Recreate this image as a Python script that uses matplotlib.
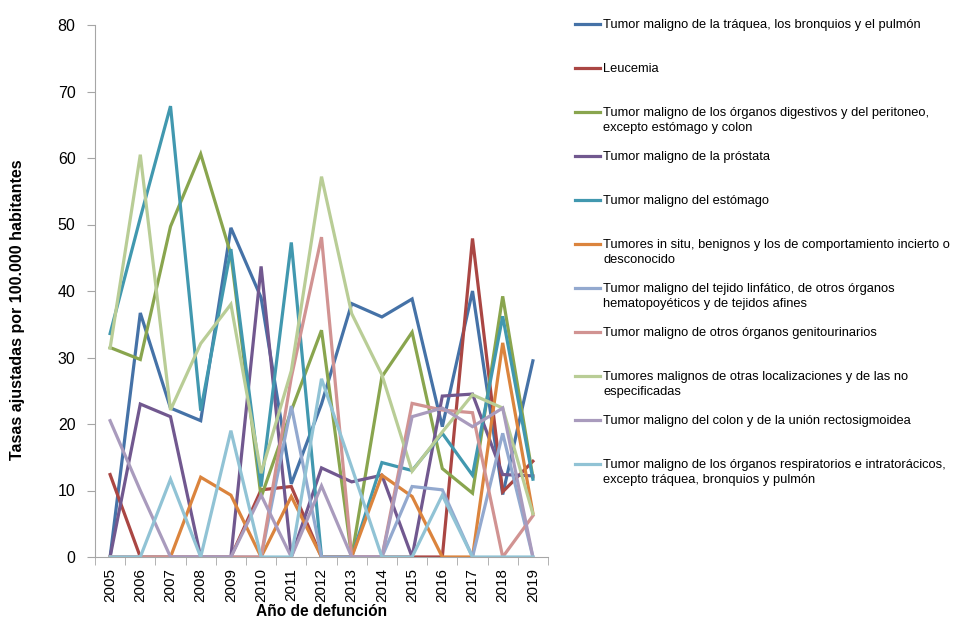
import matplotlib.pyplot as plt
from matplotlib.lines import Line2D

plt.rcParams['font.family'] = ['Liberation Sans', 'DejaVu Sans']

years = [str(y) for y in range(2005, 2020)]

traquea = [0, 36.7, 22.4, 20.5, 49.5, 39.0, 11.0, 23.0, 38.1, 36.1, 38.8, 19.6, 40.0, 9.4, 29.5]
leucemia = [12.4, 0, 0, 0, 0, 10.1, 10.6, 0, 0, 0, 0, 0, 47.9, 9.8, 14.4]
digestivos = [31.5, 29.7, 49.7, 60.6, 45.5, 9.0, 22.0, 34.1, 0, 27.1, 33.8, 13.3, 9.6, 39.2, 12.0]
prostata = [0, 23.0, 21.1, 0, 0, 43.7, 0, 13.4, 11.3, 12.3, 0, 24.2, 24.5, 12.4, 12.2]
estomago = [33.6, 51.0, 67.8, 22.0, 46.3, 10.6, 47.3, 0, 0, 14.2, 13.0, 18.6, 12.3, 36.2, 11.7]
in_situ = [0, 0, 0, 12.0, 9.3, 0, 9.1, 0, 0, 12.3, 9.1, 0, 0, 32.2, 6.6]
linfatico = [0, 0, 0, 0, 0, 0, 22.7, 0, 0, 0, 10.6, 10.1, 0, 18.6, 0]
genitourinarios = [0, 0, 0, 0, 0, 0, 27.0, 48.1, 0, 0, 23.1, 22.1, 21.7, 0, 6.2]
otras = [31.4, 60.5, 22.1, 32.1, 38.0, 12.6, 28.0, 57.2, 36.6, 27.4, 12.9, 18.8, 24.4, 22.4, 6.5]
colon = [20.5, 10.0, 0, 0, 0, 9.3, 0, 10.7, 0, 0, 21.1, 22.4, 19.6, 22.4, 0]
respiratorios = [0, 0, 11.7, 0, 19.0, 0, 0, 26.8, 13.5, 0, 0, 9.3, 0, 0, 0]

series = [traquea, leucemia, digestivos, prostata, estomago, in_situ,
          linfatico, genitourinarios, otras, colon, respiratorios]

labels = [
    "Tumor maligno de la tráquea, los bronquios y el pulmón",
    "Leucemia",
    "Tumor maligno de los órganos digestivos y del peritoneo,\nexcepto estómago y colon",
    "Tumor maligno de la próstata",
    "Tumor maligno del estómago",
    "Tumores in situ, benignos y los de comportamiento incierto o\ndesconocido",
    "Tumor maligno del tejido linfático, de otros órganos\nhematopoyéticos y de tejidos afines",
    "Tumor maligno de otros órganos genitourinarios",
    "Tumores malignos de otras localizaciones y de las no\nespecificadas",
    "Tumor maligno del colon y de la unión rectosigmoidea",
    "Tumor maligno de los órganos respiratorios e intratorácicos,\nexcepto tráquea, bronquios y pulmón",
]

colors = ["#4572A7", "#AA4643", "#89A54E", "#71588F", "#4198AF", "#DB843D",
          "#93A9CF", "#D19392", "#B9CD96", "#A99BBD", "#91C3D5"]

W, H = 959, 625
fig = plt.figure(figsize=(W / 100, H / 100), dpi=100)
ax = fig.add_axes([95 / W, 1 - 557 / H, (548 - 95) / W, (557 - 25) / H])

x = list(range(len(years)))
for vals, c in zip(series, colors):
    ax.plot(x, vals, color=c, lw=2.3, solid_joinstyle='miter')

ax.set_xlim(-0.5, len(years) - 0.5)
ax.set_ylim(0, 80)
ax.set_yticks(range(0, 81, 10))
ax.set_xticks(x)
ax.set_xticklabels(years, rotation=90, fontsize=11)
ax.set_xticks([i - 0.5 for i in range(len(years) + 1)], minor=True)
ax.tick_params(axis='x', which='major', length=0, pad=8)
ax.tick_params(axis='x', which='minor', length=6, color='#A6A6A6')
ax.tick_params(axis='y', length=6, color='#A6A6A6', labelsize=11.5, pad=8)

for s in ['top', 'right']:
    ax.spines[s].set_visible(False)
for s in ['left', 'bottom']:
    ax.spines[s].set_color('#A6A6A6')

fig.text(322 / W, 1 - 612 / H, "Año de defunción", ha='center', va='center',
         fontsize=11.2, fontweight='bold')
fig.text(18 / W, 1 - 310 / H, "Tasas ajustadas por 100.000 habitantes",
         rotation=90, ha='center', va='center', fontsize=11.5, fontweight='bold')

# legend drawn by hand, one entry every 44 px
for i, (lab, c) in enumerate(zip(labels, colors)):
    yy = 1 - (24 + 44 * i) / H
    fig.add_artist(Line2D([575 / W, 600 / W], [yy, yy], color=c, lw=2.3,
                          transform=fig.transFigure))
    fig.text(603 / W, yy + 5 / H, lab, ha='left', va='top', fontsize=9.3,
             linespacing=1.3)

plt.savefig("out.png", dpi=100)
